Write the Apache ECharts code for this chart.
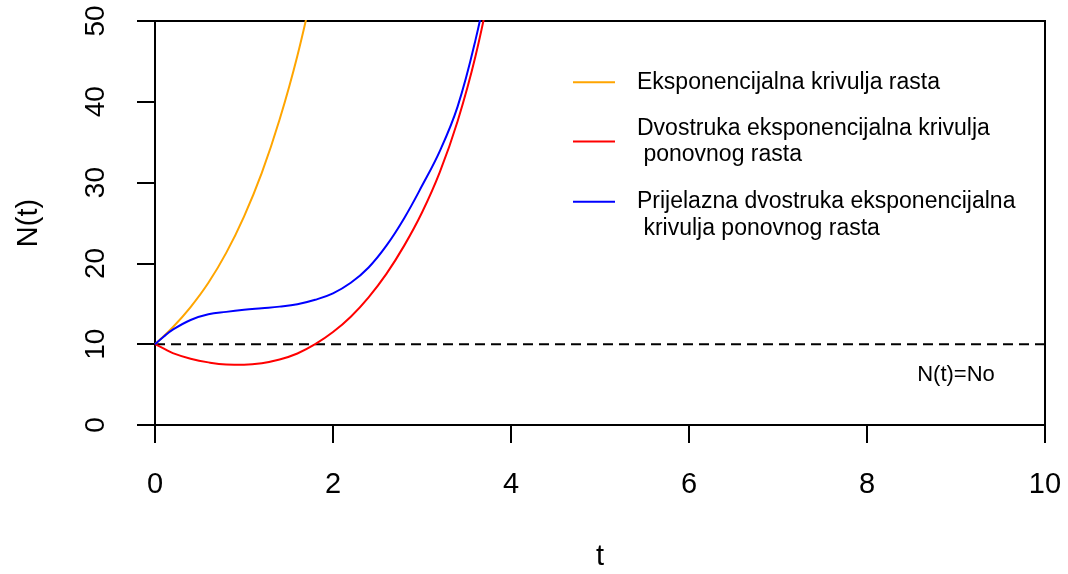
<!DOCTYPE html>
<html>
<head>
<meta charset="utf-8">
<script src="https://cdn.jsdelivr.net/npm/echarts@6/dist/echarts.min.js"></script>
<style>
html,body{margin:0;padding:0;background:#fff;}
#chart{width:1068px;height:574px;}
</style>
</head>
<body>
<div id="chart"></div>
<script>
// ---- data ----
var tOrange = [0, 0.2, 0.4, 0.6, 0.8, 1.0, 1.2, 1.4, 1.6, 1.8];
var nOrange = [10, 12.1, 14.6, 17.6, 21.3, 25.8, 31.2, 37.8, 45.7, 55.3];

var tCurves = [0, 0.1, 0.2, 0.4, 0.6, 0.8, 1.0, 1.2, 1.4, 1.6, 1.8, 2.0, 2.2, 2.4, 2.6, 2.8, 3.0, 3.2, 3.4, 3.6, 3.8];
var nRed    = [10, 9.45, 8.9, 8.2, 7.75, 7.5, 7.47, 7.65, 8.1, 8.85, 10.0, 11.5, 13.4, 15.8, 18.7, 22.2, 26.3, 31.3, 37.6, 45.6, 56.0];
var nBlue   = [10, 10.95, 11.8, 13.0, 13.7, 14.0, 14.25, 14.45, 14.65, 14.95, 15.5, 16.3, 17.6, 19.5, 22.2, 25.6, 29.6, 33.9, 39.4, 47.6, 58.0];

var tBaseline = [0, 10];
var nBaseline = [10, 10];

var xTicks = [0, 2, 4, 6, 8, 10];
var yTicks = [0, 10, 20, 30, 40, 50];

var seriesNames = [
  'Eksponencijalna krivulja rasta',
  'Dvostruka eksponencijalna krivulja ponovnog rasta',
  'Prijelazna dvostruka eksponencijalna krivulja ponovnog rasta'
];
var legendTexts = [
  'Eksponencijalna krivulja rasta',
  'Dvostruka eksponencijalna krivulja\n ponovnog rasta',
  '\nPrijelazna dvostruka eksponencijalna\n krivulja ponovnog rasta'
];
var annotationText = 'N(t)=No';
var annotationPoint = [9.0, 6.2];
var xTitle = 't';
var yTitle = 'N(t)';

function pairs(xs, ys) {
  return xs.map(function (x, i) { return [x, ys[i]]; });
}

var FONT = 'Liberation Sans, Arial, Helvetica, sans-serif';
var chart = echarts.init(document.getElementById('chart'), null, {renderer: 'canvas'});

function legendAt(idx, top) {
  return {
    data: [seriesNames[idx]],
    left: 573,
    top: top,
    orient: 'vertical',
    padding: 0,
    icon: 'rect',
    itemWidth: 42,
    itemHeight: 2,
    selectedMode: false,
    formatter: function () { return legendTexts[idx]; },
    textStyle: {
      fontFamily: FONT,
      fontSize: 23,
      lineHeight: 26.5,
      color: '#000',
      padding: [0, 0, 0, 17]
    }
  };
}

var option = {
  backgroundColor: '#fff',
  animation: false,
  grid: {
    left: 155, right: 23, top: 21, bottom: 149,
    outerBoundsMode: 'none', containLabel: false,
    show: true, borderColor: '#000', borderWidth: 2, backgroundColor: 'transparent'
  },
  legend: [legendAt(0, 69), legendAt(1, 115), legendAt(2, 162)],
  xAxis: {
    type: 'value',
    min: xTicks[0], max: xTicks[xTicks.length - 1], interval: 2,
    name: xTitle, nameLocation: 'middle', nameGap: 117,
    nameTextStyle: {fontFamily: FONT, fontSize: 29, color: '#000'},
    axisLine: {show: true, lineStyle: {color: '#000', width: 2}},
    axisTick: {show: true, inside: false, length: 18, lineStyle: {color: '#000', width: 2}},
    axisLabel: {fontFamily: FONT, fontSize: 29, color: '#000', margin: 45},
    splitLine: {show: false}
  },
  yAxis: {
    type: 'value',
    min: yTicks[0], max: yTicks[yTicks.length - 1], interval: 10,
    name: yTitle, nameLocation: 'middle', nameGap: 112, nameRotate: 90,
    nameTextStyle: {fontFamily: FONT, fontSize: 29, color: '#000'},
    axisLine: {show: true, lineStyle: {color: '#000', width: 2}},
    axisTick: {show: true, inside: false, length: 18, lineStyle: {color: '#000', width: 2}},
    axisLabel: {fontFamily: FONT, fontSize: 28, color: '#000', margin: 45, rotate: 90},
    splitLine: {show: false}
  },
  series: [
    {
      name: seriesNames[0], type: 'line', data: pairs(tOrange, nOrange),
      smooth: 0.4, showSymbol: false, clip: true,
      lineStyle: {color: '#FFA500', width: 2}, itemStyle: {color: '#FFA500'}, z: 3
    },
    {
      name: seriesNames[1], type: 'line', data: pairs(tCurves, nRed),
      smooth: 0.4, showSymbol: false, clip: true,
      lineStyle: {color: '#FF0000', width: 2}, itemStyle: {color: '#FF0000'}, z: 3
    },
    {
      name: seriesNames[2], type: 'line', data: pairs(tCurves, nBlue),
      smooth: 0.4, showSymbol: false, clip: true,
      lineStyle: {color: '#0000FF', width: 2}, itemStyle: {color: '#0000FF'}, z: 4
    },
    {
      name: 'baseline', type: 'line', data: pairs(tBaseline, nBaseline),
      showSymbol: false, silent: true, clip: true,
      lineStyle: {color: '#000', width: 2, type: [10, 6]}, z: 2
    },
    {
      name: 'annotation', type: 'scatter', data: [annotationPoint],
      symbolSize: 0, silent: true, itemStyle: {opacity: 1},
      label: {
        show: true, position: 'inside', formatter: annotationText, opacity: 1,
        fontFamily: FONT, fontSize: 22, color: '#000', textBorderWidth: 0
      }
    }
  ]
};
chart.setOption(option);
</script>
</body>
</html>
